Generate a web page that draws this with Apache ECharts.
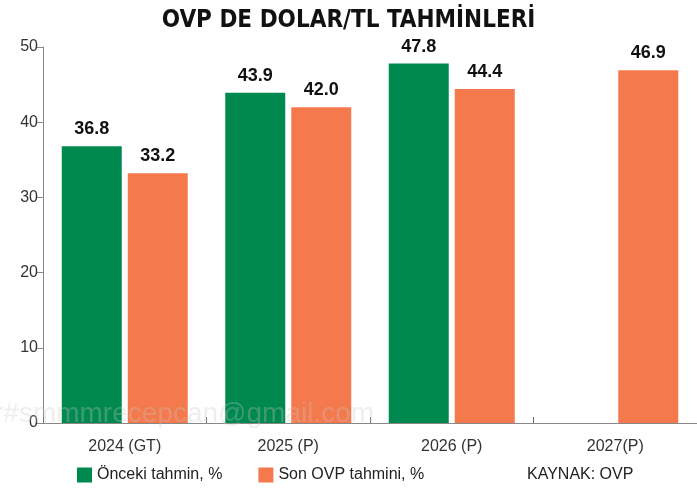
<!DOCTYPE html>
<html><head><meta charset="utf-8">
<script src="https://cdn.jsdelivr.net/npm/echarts@6/dist/echarts.min.js"></script>
<style>html,body{margin:0;padding:0;background:#fff}#c{width:697px;height:489px}</style>
</head><body><div id="c"></div>
<script>
const categories = ['2024 (GT)', '2025 (P)', '2026 (P)', '2027(P)'];
const previousForecast = [36.8, 43.9, 47.8, null];
const latestForecast = [33.2, 42.0, 44.4, 46.9];
const seriesNames = ['Önceki tahmin, %', 'Son OVP tahmini, %'];
const yTicks = [0, 10, 20, 30, 40, 50];

const chart = echarts.init(document.getElementById('c'), null, {renderer: 'canvas'});
const labelStyle = {show: true, position: 'top', distance: 8, fontFamily: 'Liberation Sans, Arial, sans-serif', fontWeight: 'bold', fontSize: 18, color: '#111', formatter: p => p.value == null ? '' : p.value.toFixed(1)};
chart.setOption({
  animation: false,
  title: {text: 'OVP DE DOLAR/TL TAHMİNLERİ', left: 'center', top: 4,
    textStyle: {fontFamily: 'DejaVu Sans Condensed, sans-serif', fontWeight: 'bold', fontSize: 24, color: '#111'}},
  grid: {left: 43, right: -6, top: 47, bottom: 66, containLabel: false},
  legend: {show: true, left: 72, top: 462, itemWidth: 15, itemHeight: 15, itemGap: 36, icon: 'rect',
    textStyle: {fontFamily: 'Liberation Sans, Arial, sans-serif', fontSize: 16, color: '#222'},
    data: seriesNames},
  xAxis: {type: 'category', data: categories,
    axisLine: {lineStyle: {color: '#888', width: 1}},
    axisTick: {show: true, inside: true, length: 6, lineStyle: {color: '#666'}},
    axisLabel: {fontFamily: 'Liberation Sans, Arial, sans-serif', fontSize: 16, color: '#333', margin: 16}},
  yAxis: {type: 'value', min: 0, max: 50, interval: 10,
    axisLine: {show: true, lineStyle: {color: '#888'}},
    axisTick: {show: true, length: 6, lineStyle: {color: '#888'}},
    splitLine: {show: false},
    axisLabel: {fontFamily: 'Liberation Sans, Arial, sans-serif', fontSize: 16, color: '#333', margin: 5,
      formatter: v => yTicks.includes(v) ? String(v) : ''}},
  series: [
    {name: seriesNames[0], type: 'bar', data: previousForecast, barWidth: 60, barGap: '10%', itemStyle: {color: '#00894f'}, label: labelStyle},
    {name: seriesNames[1], type: 'bar', data: latestForecast, barWidth: 60, itemStyle: {color: '#f47a4d'}, label: labelStyle}
  ],
  graphic: [
    {type: 'text', left: 527, top: 467, style: {text: 'KAYNAK: OVP', font: '16px "Liberation Sans", Arial, sans-serif', fill: '#222'}},
    {type: 'text', left: -6, top: 400, z: 100, style: {text: 'r#smmmrecepcan@gmail.com', font: '28px "Liberation Sans", Arial, sans-serif', fill: 'rgba(200,200,200,0.3)'}}
  ]
});
</script></body></html>
